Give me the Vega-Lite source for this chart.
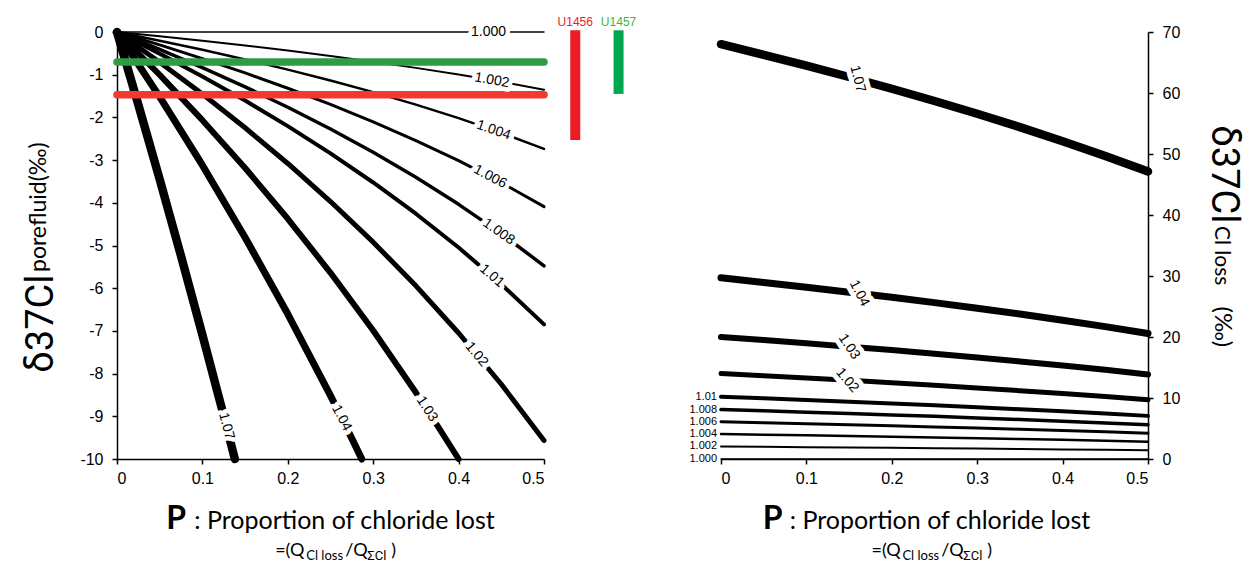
{
  "$schema": "https://vega.github.io/schema/vega-lite/v6.json",
  "background": "white",
  "padding": {"left": 22, "top": 16, "right": 5, "bottom": 0},
  "spacing": 177,
  "bounds": "flush",
  "config": {
    "view": {"stroke": null},
    "axis": {"domainColor": "black", "domainWidth": 1.5, "tickColor": "black", "tickWidth": 1.5, "tickSize": 5, "labelColor": "black", "labelFont": "Liberation Sans", "labelFontSize": 16, "grid": false, "title": null}
  },
  "datasets": {
    "left": [
      {"a":"1.000","P":0,"d":0},{"a":"1.000","P":0.25,"d":0},{"a":"1.000","P":0.5,"d":0},
      {"a":"1.002","P":0,"d":0},{"a":"1.002","P":0.05,"d":-0.100},{"a":"1.002","P":0.1,"d":-0.205},{"a":"1.002","P":0.15,"d":-0.317},{"a":"1.002","P":0.2,"d":-0.435},{"a":"1.002","P":0.25,"d":-0.561},{"a":"1.002","P":0.3,"d":-0.696},{"a":"1.002","P":0.35,"d":-0.840},{"a":"1.002","P":0.4,"d":-0.996},{"a":"1.002","P":0.45,"d":-1.166},{"a":"1.002","P":0.5,"d":-1.352},
      {"a":"1.004","P":0,"d":0},{"a":"1.004","P":0.05,"d":-0.203},{"a":"1.004","P":0.1,"d":-0.416},{"a":"1.004","P":0.15,"d":-0.642},{"a":"1.004","P":0.2,"d":-0.881},{"a":"1.004","P":0.25,"d":-1.136},{"a":"1.004","P":0.3,"d":-1.409},{"a":"1.004","P":0.35,"d":-1.702},{"a":"1.004","P":0.4,"d":-2.018},{"a":"1.004","P":0.45,"d":-2.361},{"a":"1.004","P":0.5,"d":-2.738},
      {"a":"1.006","P":0,"d":0},{"a":"1.006","P":0.05,"d":-0.303},{"a":"1.006","P":0.1,"d":-0.622},{"a":"1.006","P":0.15,"d":-0.959},{"a":"1.006","P":0.2,"d":-1.317},{"a":"1.006","P":0.25,"d":-1.697},{"a":"1.006","P":0.3,"d":-2.104},{"a":"1.006","P":0.35,"d":-2.542},{"a":"1.006","P":0.4,"d":-3.014},{"a":"1.006","P":0.45,"d":-3.527},{"a":"1.006","P":0.5,"d":-4.090},
      {"a":"1.008","P":0,"d":0},{"a":"1.008","P":0.05,"d":-0.405},{"a":"1.008","P":0.1,"d":-0.832},{"a":"1.008","P":0.15,"d":-1.284},{"a":"1.008","P":0.2,"d":-1.763},{"a":"1.008","P":0.25,"d":-2.273},{"a":"1.008","P":0.3,"d":-2.818},{"a":"1.008","P":0.35,"d":-3.403},{"a":"1.008","P":0.4,"d":-4.036},{"a":"1.008","P":0.45,"d":-4.723},{"a":"1.008","P":0.5,"d":-5.476},
      {"a":"1.01","P":0,"d":0},{"a":"1.01","P":0.05,"d":-0.507},{"a":"1.01","P":0.1,"d":-1.041},{"a":"1.01","P":0.15,"d":-1.606},{"a":"1.01","P":0.2,"d":-2.205},{"a":"1.01","P":0.25,"d":-2.842},{"a":"1.01","P":0.3,"d":-3.524},{"a":"1.01","P":0.35,"d":-4.256},{"a":"1.01","P":0.4,"d":-5.047},{"a":"1.01","P":0.45,"d":-5.907},{"a":"1.01","P":0.5,"d":-6.848},
      {"a":"1.02","P":0,"d":0},{"a":"1.02","P":0.05,"d":-0.708},{"a":"1.02","P":0.1,"d":-1.454},{"a":"1.02","P":0.15,"d":-2.243},{"a":"1.02","P":0.2,"d":-3.079},{"a":"1.02","P":0.25,"d":-3.970},{"a":"1.02","P":0.3,"d":-4.922},{"a":"1.02","P":0.35,"d":-5.945},{"a":"1.02","P":0.4,"d":-7.049},{"a":"1.02","P":0.45,"d":-8.250},{"a":"1.02","P":0.5,"d":-9.565},
      {"a":"1.03","P":0,"d":0},{"a":"1.03","P":0.05,"d":-1.005},{"a":"1.03","P":0.1,"d":-2.065},{"a":"1.03","P":0.15,"d":-3.185},{"a":"1.03","P":0.2,"d":-4.374},{"a":"1.03","P":0.25,"d":-5.639},{"a":"1.03","P":0.3,"d":-6.991},{"a":"1.03","P":0.35,"d":-8.443},{"a":"1.03","P":0.375,"d":-9.212},{"a":"1.03","P":0.4,"d":-10.0},
      {"a":"1.04","P":0,"d":0},{"a":"1.04","P":0.05,"d":-1.518},{"a":"1.04","P":0.1,"d":-3.119},{"a":"1.04","P":0.15,"d":-4.811},{"a":"1.04","P":0.2,"d":-6.605},{"a":"1.04","P":0.25,"d":-8.515},{"a":"1.04","P":0.275,"d":-9.519},{"a":"1.04","P":0.2866,"d":-10.0},
      {"a":"1.07","P":0,"d":0},{"a":"1.07","P":0.025,"d":-1.704},{"a":"1.07","P":0.05,"d":-3.452},{"a":"1.07","P":0.075,"d":-5.247},{"a":"1.07","P":0.1,"d":-7.091},{"a":"1.07","P":0.125,"d":-8.987},{"a":"1.07","P":0.138,"d":-10.0}
    ],
    "right": [
      {"a":"1.000","P":0,"v":0},{"a":"1.000","P":0.5,"v":0},
      {"a":"1.002","P":0,"v":2.05},{"a":"1.002","P":0.05,"v":1.998},{"a":"1.002","P":0.1,"v":1.944},{"a":"1.002","P":0.15,"v":1.888},{"a":"1.002","P":0.2,"v":1.830},{"a":"1.002","P":0.25,"v":1.769},{"a":"1.002","P":0.3,"v":1.706},{"a":"1.002","P":0.35,"v":1.640},{"a":"1.002","P":0.4,"v":1.571},{"a":"1.002","P":0.45,"v":1.498},{"a":"1.002","P":0.5,"v":1.421},
      {"a":"1.004","P":0,"v":4.1},{"a":"1.004","P":0.05,"v":3.995},{"a":"1.004","P":0.1,"v":3.888},{"a":"1.004","P":0.15,"v":3.776},{"a":"1.004","P":0.2,"v":3.660},{"a":"1.004","P":0.25,"v":3.539},{"a":"1.004","P":0.3,"v":3.412},{"a":"1.004","P":0.35,"v":3.280},{"a":"1.004","P":0.4,"v":3.142},{"a":"1.004","P":0.45,"v":2.996},{"a":"1.004","P":0.5,"v":2.842},
      {"a":"1.006","P":0,"v":6.1},{"a":"1.006","P":0.05,"v":5.945},{"a":"1.006","P":0.1,"v":5.784},{"a":"1.006","P":0.15,"v":5.618},{"a":"1.006","P":0.2,"v":5.445},{"a":"1.006","P":0.25,"v":5.265},{"a":"1.006","P":0.3,"v":5.077},{"a":"1.006","P":0.35,"v":4.880},{"a":"1.006","P":0.4,"v":4.674},{"a":"1.006","P":0.45,"v":4.457},{"a":"1.006","P":0.5,"v":4.228},
      {"a":"1.008","P":0,"v":8.1},{"a":"1.008","P":0.05,"v":7.894},{"a":"1.008","P":0.1,"v":7.681},{"a":"1.008","P":0.15,"v":7.460},{"a":"1.008","P":0.2,"v":7.230},{"a":"1.008","P":0.25,"v":6.991},{"a":"1.008","P":0.3,"v":6.741},{"a":"1.008","P":0.35,"v":6.480},{"a":"1.008","P":0.4,"v":6.207},{"a":"1.008","P":0.45,"v":5.919},{"a":"1.008","P":0.5,"v":5.615},
      {"a":"1.01","P":0,"v":10.2},{"a":"1.01","P":0.05,"v":9.940},{"a":"1.01","P":0.1,"v":9.672},{"a":"1.01","P":0.15,"v":9.394},{"a":"1.01","P":0.2,"v":9.104},{"a":"1.01","P":0.25,"v":8.803},{"a":"1.01","P":0.3,"v":8.489},{"a":"1.01","P":0.35,"v":8.160},{"a":"1.01","P":0.4,"v":7.816},{"a":"1.01","P":0.45,"v":7.453},{"a":"1.01","P":0.5,"v":7.070},
      {"a":"1.02","P":0,"v":14.0},{"a":"1.02","P":0.05,"v":13.643},{"a":"1.02","P":0.1,"v":13.275},{"a":"1.02","P":0.15,"v":12.893},{"a":"1.02","P":0.2,"v":12.496},{"a":"1.02","P":0.25,"v":12.083},{"a":"1.02","P":0.3,"v":11.651},{"a":"1.02","P":0.35,"v":11.200},{"a":"1.02","P":0.4,"v":10.727},{"a":"1.02","P":0.45,"v":10.230},{"a":"1.02","P":0.5,"v":9.704},
      {"a":"1.03","P":0,"v":20.0},{"a":"1.03","P":0.05,"v":19.490},{"a":"1.03","P":0.1,"v":18.965},{"a":"1.03","P":0.15,"v":18.419},{"a":"1.03","P":0.2,"v":17.851},{"a":"1.03","P":0.25,"v":17.261},{"a":"1.03","P":0.3,"v":16.645},{"a":"1.03","P":0.35,"v":16.000},{"a":"1.03","P":0.4,"v":15.325},{"a":"1.03","P":0.45,"v":14.614},{"a":"1.03","P":0.5,"v":13.863},
      {"a":"1.04","P":0,"v":29.7},{"a":"1.04","P":0.05,"v":28.943},{"a":"1.04","P":0.1,"v":28.163},{"a":"1.04","P":0.15,"v":27.352},{"a":"1.04","P":0.2,"v":26.509},{"a":"1.04","P":0.25,"v":25.633},{"a":"1.04","P":0.3,"v":24.718},{"a":"1.04","P":0.35,"v":23.761},{"a":"1.04","P":0.4,"v":22.757},{"a":"1.04","P":0.45,"v":21.702},{"a":"1.04","P":0.5,"v":20.587},
      {"a":"1.07","P":0,"v":68.0},{"a":"1.07","P":0.05,"v":66.267},{"a":"1.07","P":0.1,"v":64.480},{"a":"1.07","P":0.15,"v":62.625},{"a":"1.07","P":0.2,"v":60.695},{"a":"1.07","P":0.25,"v":58.687},{"a":"1.07","P":0.3,"v":56.592},{"a":"1.07","P":0.35,"v":54.401},{"a":"1.07","P":0.4,"v":52.104},{"a":"1.07","P":0.45,"v":49.687},{"a":"1.07","P":0.5,"v":47.134}
    ],
    "labL": [
      {"a":"1.000","P":0.435,"d":0},
      {"a":"1.002","P":0.439,"d":-1.13},
      {"a":"1.004","P":0.441,"d":-2.30},
      {"a":"1.006","P":0.437,"d":-3.39},
      {"a":"1.008","P":0.447,"d":-4.68},
      {"a":"1.01","P":0.439,"d":-5.71},
      {"a":"1.02","P":0.421,"d":-7.55},
      {"a":"1.03","P":0.363,"d":-8.83},
      {"a":"1.04","P":0.263,"d":-9.04},
      {"a":"1.07","P":0.128,"d":-9.23}
    ],
    "labR": [
      {"a":"1.07","P":0.16,"v":62.3},
      {"a":"1.04","P":0.162,"v":27.15},
      {"a":"1.03","P":0.15,"v":18.42},
      {"a":"1.02","P":0.148,"v":12.9}
    ],
    "sites": [
      {"site":"U1456","mean":-1.47,"top":0.04,"bottom":-2.53},
      {"site":"U1457","mean":-0.70,"top":0.04,"bottom":-1.45}
    ],
    "ann": [
      {"id":"Lt","t":"δ37Cl"},
      {"id":"Ls","t":"porefluid(‰)"},
      {"id":"P","t":"P"},
      {"id":"prop","t":": Proportion of chloride lost"},
      {"id":"s1","t":"=(Q"},
      {"id":"s2","t":"Cl loss"},
      {"id":"s3","t":"/Q"},
      {"id":"s4","t":"ΣCl"},
      {"id":"s5","t":")"},
      {"id":"Rt","t":"δ37Cl"},
      {"id":"Rs","t":"Cl loss"},
      {"id":"Rp","t":"(‰)"}
    ]
  },
  "hconcat": [
    {
      "width": 427,
      "height": 427,
      "layer": [
        {
          "data": {"name": "left"},
          "mark": {"type": "line", "color": "black", "strokeCap": "round", "strokeJoin": "round"},
          "encoding": {
            "x": {"field": "P", "type": "quantitative", "scale": {"domain": [0, 0.5], "nice": false, "zero": false}, "axis": {"values": [0, 0.1, 0.2, 0.3, 0.4, 0.5], "format": ".1~f", "labelPadding": 6}},
            "y": {"field": "d", "type": "quantitative", "scale": {"domain": [-10, 0], "nice": false, "zero": false}, "axis": {"values": [0, -1, -2, -3, -4, -5, -6, -7, -8, -9, -10], "labelExpr": "'' + datum.value", "labelPadding": 9}},
            "detail": {"field": "a"},
            "strokeWidth": {"field": "a", "type": "ordinal", "scale": {"type": "ordinal", "domain": ["1.000","1.002","1.004","1.006","1.008","1.01","1.02","1.03","1.04","1.07"], "range": [1.5, 2, 2.5, 3, 3.5, 4, 5, 6, 7, 8.5]}, "legend": null}
          }
        },
        {
          "data": {"name": "sites"},
          "transform": [{"filter": "datum.site == 'U1457'"}],
          "mark": {"type": "rule", "color": "#2E9B45", "strokeWidth": 7.5, "strokeCap": "round"},
          "encoding": {"x": {"datum": 0}, "x2": {"datum": 0.5}, "y": {"field": "mean", "type": "quantitative"}}
        },
        {
          "data": {"name": "sites"},
          "transform": [{"filter": "datum.site == 'U1456'"}],
          "mark": {"type": "rule", "color": "#EE3A2F", "strokeWidth": 7.5, "strokeCap": "round"},
          "encoding": {"x": {"datum": 0}, "x2": {"datum": 0.5}, "y": {"field": "mean", "type": "quantitative"}}
        },
        {
          "data": {"name": "sites"},
          "transform": [{"filter": "datum.site == 'U1456'"}],
          "mark": {"type": "rule", "color": "#ED1C24", "strokeWidth": 10, "strokeCap": "butt"},
          "encoding": {"x": {"datum": 0.5366}, "y": {"field": "top", "type": "quantitative"}, "y2": {"field": "bottom"}}
        },
        {
          "data": {"name": "sites"},
          "transform": [{"filter": "datum.site == 'U1457'"}],
          "mark": {"type": "rule", "color": "#00A650", "strokeWidth": 10, "strokeCap": "butt"},
          "encoding": {"x": {"datum": 0.5873}, "y": {"field": "top", "type": "quantitative"}, "y2": {"field": "bottom"}}
        },
        {
          "data": {"name": "sites"},
          "transform": [{"filter": "datum.site == 'U1456'"}],
          "mark": {"type": "text", "color": "#ED1C24", "font": "Liberation Sans", "fontSize": 12, "align": "center", "baseline": "alphabetic"},
          "encoding": {"x": {"datum": 0.5366}, "y": {"datum": 0.134}, "text": {"field": "site"}}
        },
        {
          "data": {"name": "sites"},
          "transform": [{"filter": "datum.site == 'U1457'"}],
          "mark": {"type": "text", "color": "#39B54A", "font": "Liberation Sans", "fontSize": 12, "align": "center", "baseline": "alphabetic"},
          "encoding": {"x": {"datum": 0.5873}, "y": {"datum": 0.134}, "text": {"field": "site"}}
        },
        {
          "data": {"name": "labL"},
          "mark": {"type": "text", "font": "Liberation Sans", "fontSize": 14, "align": "center", "baseline": "middle", "color": "white", "stroke": "white", "strokeWidth": 9, "strokeJoin": "round"},
          "encoding": {
            "x": {"field": "P", "type": "quantitative"},
            "y": {"field": "d", "type": "quantitative"},
            "text": {"field": "a"},
            "angle": {"field": "a", "type": "nominal", "scale": {"type": "ordinal", "domain": ["1.000","1.002","1.004","1.006","1.008","1.01","1.02","1.03","1.04","1.07"], "range": [0, 10, 19, 28, 35, 41, 50, 57, 63, 75]}, "legend": null}
          }
        },
        {
          "data": {"name": "labL"},
          "mark": {"type": "text", "font": "Liberation Sans", "fontSize": 14, "align": "center", "baseline": "middle", "color": "black"},
          "encoding": {
            "x": {"field": "P", "type": "quantitative"},
            "y": {"field": "d", "type": "quantitative"},
            "text": {"field": "a"},
            "angle": {"field": "a", "type": "nominal", "scale": {"type": "ordinal", "domain": ["1.000","1.002","1.004","1.006","1.008","1.01","1.02","1.03","1.04","1.07"], "range": [0, 10, 19, 28, 35, 41, 50, 57, 63, 75]}, "legend": null}
          }
        },
        {
          "data": {"name": "ann"},
          "transform": [{"filter": "datum.id == 'Lt'"}],
          "mark": {"type": "text", "font": "Roboto", "fontSize": 38, "angle": 270, "align": "left", "baseline": "alphabetic", "color": "black"},
          "encoding": {"x": {"datum": -0.0755}, "y": {"datum": -7.98}, "text": {"field": "t"}}
        },
        {
          "data": {"name": "ann"},
          "transform": [{"filter": "datum.id == 'Ls'"}],
          "mark": {"type": "text", "font": "Lato", "fontSize": 23, "angle": 270, "align": "left", "baseline": "alphabetic", "color": "black"},
          "encoding": {"x": {"datum": -0.0835}, "y": {"datum": -5.62}, "text": {"field": "t"}}
        },
        {
          "data": {"name": "ann"},
          "transform": [{"filter": "datum.id == 'P'"}],
          "mark": {"type": "text", "font": "Lato", "fontSize": 32, "fontWeight": "bold", "align": "center", "baseline": "alphabetic", "color": "black"},
          "encoding": {"x": {"datum": 0.0692}, "y": {"datum": -11.64}, "text": {"field": "t"}}
        },
        {
          "data": {"name": "ann"},
          "transform": [{"filter": "datum.id == 'prop'"}],
          "mark": {"type": "text", "font": "Lato", "fontSize": 25, "align": "left", "baseline": "alphabetic", "color": "black"},
          "encoding": {"x": {"datum": 0.0905}, "y": {"datum": -11.64}, "text": {"field": "t"}}
        },
        {
          "data": {"name": "ann"},
          "transform": [{"filter": "datum.id == 's1'"}],
          "mark": {"type": "text", "font": "Lato", "fontSize": 18, "align": "left", "baseline": "alphabetic", "color": "black"},
          "encoding": {"x": {"datum": 0.1852}, "y": {"datum": -12.28}, "text": {"field": "t"}}
        },
        {
          "data": {"name": "ann"},
          "transform": [{"filter": "datum.id == 's2'"}],
          "mark": {"type": "text", "font": "Lato", "fontSize": 13, "align": "left", "baseline": "alphabetic", "color": "black"},
          "encoding": {"x": {"datum": 0.2216}, "y": {"datum": -12.37}, "text": {"field": "t"}}
        },
        {
          "data": {"name": "ann"},
          "transform": [{"filter": "datum.id == 's3'"}],
          "mark": {"type": "text", "font": "Lato", "fontSize": 18, "align": "left", "baseline": "alphabetic", "color": "black"},
          "encoding": {"x": {"datum": 0.2673}, "y": {"datum": -12.28}, "text": {"field": "t"}}
        },
        {
          "data": {"name": "ann"},
          "transform": [{"filter": "datum.id == 's4'"}],
          "mark": {"type": "text", "font": "Roboto", "fontSize": 13, "align": "left", "baseline": "alphabetic", "color": "black"},
          "encoding": {"x": {"datum": 0.2931}, "y": {"datum": -12.37}, "text": {"field": "t"}}
        },
        {
          "data": {"name": "ann"},
          "transform": [{"filter": "datum.id == 's5'"}],
          "mark": {"type": "text", "font": "Lato", "fontSize": 18, "align": "left", "baseline": "alphabetic", "color": "black"},
          "encoding": {"x": {"datum": 0.3212}, "y": {"datum": -12.28}, "text": {"field": "t"}}
        }
      ]
    },
    {
      "width": 427,
      "height": 427,
      "layer": [
        {
          "data": {"name": "right"},
          "mark": {"type": "line", "color": "black", "strokeCap": "round", "strokeJoin": "round"},
          "encoding": {
            "x": {"field": "P", "type": "quantitative", "scale": {"domain": [0, 0.5], "nice": false, "zero": false}, "axis": {"values": [0, 0.1, 0.2, 0.3, 0.4, 0.5], "format": ".1~f", "labelPadding": 6}},
            "y": {"field": "v", "type": "quantitative", "scale": {"domain": [0, 70], "nice": false, "zero": false}, "axis": {"orient": "right", "values": [0, 10, 20, 30, 40, 50, 60, 70], "format": "d", "labelPadding": 9}},
            "detail": {"field": "a"},
            "strokeWidth": {"field": "a", "type": "ordinal", "scale": {"type": "ordinal", "domain": ["1.000","1.002","1.004","1.006","1.008","1.01","1.02","1.03","1.04","1.07"], "range": [1.5, 2.5, 3, 3.5, 3.5, 4.5, 5, 5.5, 7, 9.5]}, "legend": null}
          }
        },
        {
          "data": {"name": "right"},
          "transform": [{"filter": "datum.P == 0 && indexof(['1.000','1.002','1.004','1.006','1.008','1.01'], datum.a) >= 0"}],
          "mark": {"type": "text", "font": "Liberation Sans", "fontSize": 11, "align": "right", "baseline": "middle", "dx": -4, "color": "black"},
          "encoding": {"x": {"field": "P", "type": "quantitative"}, "y": {"field": "v", "type": "quantitative"}, "text": {"field": "a"}}
        },
        {
          "data": {"name": "labR"},
          "mark": {"type": "text", "font": "Liberation Sans", "fontSize": 14, "align": "center", "baseline": "middle", "color": "white", "stroke": "white", "strokeWidth": 10, "strokeJoin": "round"},
          "encoding": {
            "x": {"field": "P", "type": "quantitative"},
            "y": {"field": "v", "type": "quantitative"},
            "text": {"field": "a"},
            "angle": {"field": "a", "type": "nominal", "scale": {"type": "ordinal", "domain": ["1.02","1.03","1.04","1.07"], "range": [3.5, 5, 7.5, 16.5]}, "legend": null}
          }
        },
        {
          "data": {"name": "labR"},
          "mark": {"type": "text", "font": "Liberation Sans", "fontSize": 14, "align": "center", "baseline": "middle", "color": "black"},
          "encoding": {
            "x": {"field": "P", "type": "quantitative"},
            "y": {"field": "v", "type": "quantitative"},
            "text": {"field": "a"},
            "angle": {"field": "a", "type": "nominal", "scale": {"type": "ordinal", "domain": ["1.02","1.03","1.04","1.07"], "range": [3.5, 5, 7.5, 16.5]}, "legend": null}
          }
        },
        {
          "data": {"name": "ann"},
          "transform": [{"filter": "datum.id == 'Rt'"}],
          "mark": {"type": "text", "font": "Roboto", "fontSize": 38, "angle": 90, "align": "left", "baseline": "alphabetic", "color": "black"},
          "encoding": {"x": {"datum": 0.5755}, "y": {"datum": 54.7}, "text": {"field": "t"}}
        },
        {
          "data": {"name": "ann"},
          "transform": [{"filter": "datum.id == 'Rs'"}],
          "mark": {"type": "text", "font": "Lato", "fontSize": 21, "angle": 90, "align": "left", "baseline": "alphabetic", "color": "black"},
          "encoding": {"x": {"datum": 0.5790}, "y": {"datum": 38.2}, "text": {"field": "t"}}
        },
        {
          "data": {"name": "ann"},
          "transform": [{"filter": "datum.id == 'Rp'"}],
          "mark": {"type": "text", "font": "Lato", "fontSize": 24, "angle": 90, "align": "left", "baseline": "alphabetic", "color": "black"},
          "encoding": {"x": {"datum": 0.5779}, "y": {"datum": 25.0}, "text": {"field": "t"}}
        },
        {
          "data": {"name": "ann"},
          "transform": [{"filter": "datum.id == 'P'"}],
          "mark": {"type": "text", "font": "Lato", "fontSize": 32, "fontWeight": "bold", "align": "center", "baseline": "alphabetic", "color": "black"},
          "encoding": {"x": {"datum": 0.0604}, "y": {"datum": -11.44}, "text": {"field": "t"}}
        },
        {
          "data": {"name": "ann"},
          "transform": [{"filter": "datum.id == 'prop'"}],
          "mark": {"type": "text", "font": "Lato", "fontSize": 25, "align": "left", "baseline": "alphabetic", "color": "black"},
          "encoding": {"x": {"datum": 0.0805}, "y": {"datum": -11.44}, "text": {"field": "t"}}
        },
        {
          "data": {"name": "ann"},
          "transform": [{"filter": "datum.id == 's1'"}],
          "mark": {"type": "text", "font": "Lato", "fontSize": 18, "align": "left", "baseline": "alphabetic", "color": "black"},
          "encoding": {"x": {"datum": 0.1762}, "y": {"datum": -15.87}, "text": {"field": "t"}}
        },
        {
          "data": {"name": "ann"},
          "transform": [{"filter": "datum.id == 's2'"}],
          "mark": {"type": "text", "font": "Lato", "fontSize": 13, "align": "left", "baseline": "alphabetic", "color": "black"},
          "encoding": {"x": {"datum": 0.2124}, "y": {"datum": -16.52}, "text": {"field": "t"}}
        },
        {
          "data": {"name": "ann"},
          "transform": [{"filter": "datum.id == 's3'"}],
          "mark": {"type": "text", "font": "Lato", "fontSize": 18, "align": "left", "baseline": "alphabetic", "color": "black"},
          "encoding": {"x": {"datum": 0.2580}, "y": {"datum": -15.87}, "text": {"field": "t"}}
        },
        {
          "data": {"name": "ann"},
          "transform": [{"filter": "datum.id == 's4'"}],
          "mark": {"type": "text", "font": "Roboto", "fontSize": 13, "align": "left", "baseline": "alphabetic", "color": "black"},
          "encoding": {"x": {"datum": 0.2837}, "y": {"datum": -16.52}, "text": {"field": "t"}}
        },
        {
          "data": {"name": "ann"},
          "transform": [{"filter": "datum.id == 's5'"}],
          "mark": {"type": "text", "font": "Lato", "fontSize": 18, "align": "left", "baseline": "alphabetic", "color": "black"},
          "encoding": {"x": {"datum": 0.3118}, "y": {"datum": -15.87}, "text": {"field": "t"}}
        }
      ]
    }
  ]
}
